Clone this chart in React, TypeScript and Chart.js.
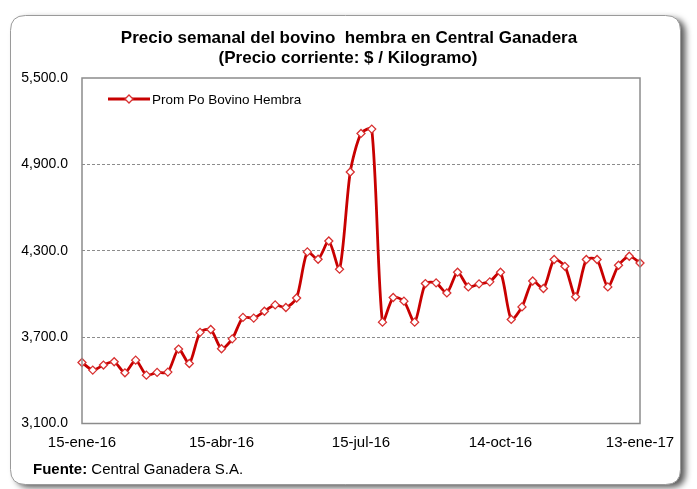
import React, { useEffect, useRef } from 'react';
import { Chart, registerables } from 'chart.js';

Chart.register(...registerables);

// Weekly dates (Fridays) from 15-ene-16 to 13-ene-17
const weeks = [
  '15-ene-16', '22-ene-16', '29-ene-16', '5-feb-16', '12-feb-16', '19-feb-16', '26-feb-16',
  '4-mar-16', '11-mar-16', '18-mar-16', '25-mar-16', '1-abr-16', '8-abr-16', '15-abr-16',
  '22-abr-16', '29-abr-16', '6-may-16', '13-may-16', '20-may-16', '27-may-16', '3-jun-16',
  '10-jun-16', '17-jun-16', '24-jun-16', '1-jul-16', '8-jul-16', '15-jul-16', '22-jul-16',
  '29-jul-16', '5-ago-16', '12-ago-16', '19-ago-16', '26-ago-16', '2-sep-16', '9-sep-16',
  '16-sep-16', '23-sep-16', '30-sep-16', '7-oct-16', '14-oct-16', '21-oct-16', '28-oct-16',
  '4-nov-16', '11-nov-16', '18-nov-16', '25-nov-16', '2-dic-16', '9-dic-16', '16-dic-16',
  '23-dic-16', '30-dic-16', '6-ene-17', '13-ene-17',
];

// Prom Po Bovino Hembra ($ / kg)
const prices = [
  3524, 3471, 3506, 3529, 3452, 3540, 3436, 3455, 3457, 3617,
  3517, 3733, 3753, 3619, 3688, 3837, 3832, 3880, 3924, 3906,
  3972, 4292, 4241, 4368, 4172, 4847, 5115, 5145, 3804, 3975,
  3950, 3804, 4072, 4077, 4007, 4151, 4049, 4070, 4084, 4151,
  3823, 3910, 4090, 4038, 4239, 4192, 3980, 4239, 4239, 4049,
  4199, 4262, 4215,
];

const shownTicks = ['15-ene-16', '15-abr-16', '15-jul-16', '14-oct-16', '13-ene-17'];
const yTicks = [3100, 3700, 4300, 4900, 5500];

const seriesName = 'Prom Po Bovino Hembra';
const titleLines = ['Precio semanal del bovino  hembra en Central Ganadera', '(Precio corriente: $ / Kilogramo)'];
const sourceLabel = 'Fuente:';
const sourceText = 'Central Ganadera S.A.';

const RED = '#C80000';
const SANS = '"Liberation Sans", Arial, sans-serif';

const decor = {
  id: 'decor',
  beforeDraw(chart: any) {
    const ctx = chart.ctx as CanvasRenderingContext2D;
    ctx.save();
    ctx.fillStyle = '#ffffff';
    ctx.fillRect(0, 0, chart.width, chart.height);
    const x = 10.5, y = 15.5, w = 670, h = 469, r = 15;
    ctx.beginPath();
    ctx.moveTo(x + r, y);
    ctx.lineTo(x + w - r, y);
    ctx.quadraticCurveTo(x + w, y, x + w, y + r);
    ctx.lineTo(x + w, y + h - r);
    ctx.quadraticCurveTo(x + w, y + h, x + w - r, y + h);
    ctx.lineTo(x + r, y + h);
    ctx.quadraticCurveTo(x, y + h, x, y + h - r);
    ctx.lineTo(x, y + r);
    ctx.quadraticCurveTo(x, y, x + r, y);
    ctx.closePath();
    ctx.shadowColor = 'rgba(0,0,0,0.65)';
    ctx.shadowBlur = 6;
    ctx.shadowOffsetX = 5;
    ctx.shadowOffsetY = 3;
    ctx.fillStyle = '#ffffff';
    ctx.fill();
    ctx.shadowColor = 'transparent';
    ctx.strokeStyle = '#9a9a9a';
    ctx.lineWidth = 1;
    ctx.stroke();

    // title
    ctx.fillStyle = '#000';
    ctx.textAlign = 'center';
    ctx.textBaseline = 'middle';
    ctx.font = `bold 17px ${SANS}`;
    ctx.fillText(titleLines[0], 349, 38);
    ctx.fillText(titleLines[1], 348, 58);

    // footer
    ctx.textAlign = 'left';
    ctx.font = `bold 15px ${SANS}`;
    ctx.fillText(sourceLabel, 33, 470);
    const wL = ctx.measureText(sourceLabel + ' ').width;
    ctx.font = `15px ${SANS}`;
    ctx.fillText(sourceText, 33 + wL, 470);
    ctx.restore();
  },
  afterDraw(chart: any) {
    const ctx = chart.ctx as CanvasRenderingContext2D;
    const a = chart.chartArea;
    ctx.save();
    ctx.strokeStyle = '#8c8c8c';
    ctx.lineWidth = 1.5;
    ctx.strokeRect(a.left, a.top, a.right - a.left, a.bottom - a.top);

    // legend
    const ly = 99;
    ctx.strokeStyle = RED;
    ctx.lineWidth = 2.8;
    ctx.beginPath();
    ctx.moveTo(108, ly);
    ctx.lineTo(150, ly);
    ctx.stroke();
    ctx.beginPath();
    ctx.moveTo(129, ly - 4);
    ctx.lineTo(133, ly);
    ctx.lineTo(129, ly + 4);
    ctx.lineTo(125, ly);
    ctx.closePath();
    ctx.fillStyle = '#fff';
    ctx.fill();
    ctx.lineWidth = 1.3;
    ctx.strokeStyle = '#d83030';
    ctx.stroke();
    ctx.fillStyle = '#000';
    ctx.font = `13.5px ${SANS}`;
    ctx.textAlign = 'left';
    ctx.textBaseline = 'middle';
    ctx.fillText(seriesName, 152, ly + 1);
    ctx.restore();
  },
};

export default function App() {
  const ref = useRef<HTMLCanvasElement>(null);
  useEffect(() => {
    document.body.style.margin = '0';
    const chart = new Chart(ref.current!, {
      type: 'line',
      data: {
        labels: weeks,
        datasets: [
          {
            label: seriesName,
            data: prices,
            borderColor: RED,
            borderWidth: 2.8,
            pointStyle: 'rectRot',
            pointRadius: 4,
            pointBorderWidth: 1.3,
            pointBackgroundColor: '#ffffff',
            pointBorderColor: '#d83030',
            tension: 0.25,
            fill: false,
          },
        ],
      },
      options: {
        animation: false,
        responsive: false,
        devicePixelRatio: 1,
        layout: { padding: { left: 10, right: 57, top: 78, bottom: 35.5 } },
        plugins: { legend: { display: false }, title: { display: false }, tooltip: { enabled: false } },
        scales: {
          x: {
            type: 'category',
            offset: false,
            grid: { display: false, drawTicks: false },
            border: { display: false },
            afterFit: (s: any) => { s.height = 30; },
            ticks: {
              autoSkip: false,
              maxRotation: 0,
              minRotation: 0,
              padding: 10,
              color: '#000',
              font: { family: SANS, size: 15 },
              callback: (_v: any, i: number) => (shownTicks.includes(weeks[i]) ? weeks[i] : ''),
            },
          },
          y: {
            min: yTicks[0],
            max: yTicks[yTicks.length - 1],
            afterFit: (s: any) => { s.width = 72; },
            afterBuildTicks: (s: any) => { s.ticks = yTicks.map((v) => ({ value: v })); },
            grid: {
              drawTicks: false,
              color: (c: any) => (c.tick && (c.tick.value === yTicks[0] || c.tick.value === yTicks[yTicks.length - 1]) ? 'rgba(0,0,0,0)' : '#8c8c8c'),
              lineWidth: 1,
            },
            border: { display: false, dash: [3, 2] },
            ticks: {
              padding: 14,
              color: '#000',
              font: { family: SANS, size: 14 },
              callback: (v: any) => Number(v).toLocaleString('en-US', { minimumFractionDigits: 1, maximumFractionDigits: 1 }),
            },
          },
        },
      },
      plugins: [decor],
    });
    return () => chart.destroy();
  }, []);
  return <canvas ref={ref} width={697} height={489} style={{ display: 'block' }} />;
}
